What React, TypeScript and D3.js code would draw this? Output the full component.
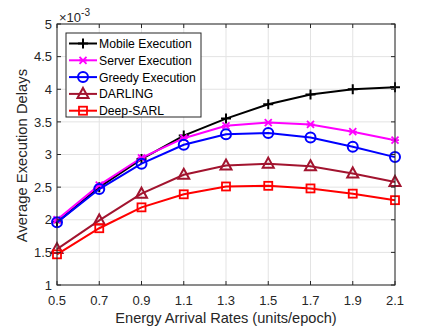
import React, { useEffect, useRef } from 'react';
import * as d3 from 'd3';

const rates = [0.5, 0.7, 0.9, 1.1, 1.3, 1.5, 1.7, 1.9, 2.1];
const mobileExec = [1.96, 2.5, 2.93, 3.29, 3.55, 3.77, 3.92, 4.0, 4.03];
const serverExec = [2.0, 2.53, 2.95, 3.25, 3.44, 3.49, 3.46, 3.35, 3.22];
const greedyExec = [1.96, 2.47, 2.86, 3.15, 3.31, 3.33, 3.26, 3.12, 2.96];
const darling = [1.55, 1.99, 2.4, 2.69, 2.83, 2.86, 2.82, 2.71, 2.58];
const deepSarl = [1.47, 1.87, 2.19, 2.39, 2.51, 2.52, 2.48, 2.4, 2.3];
const yTicks = [1, 1.5, 2, 2.5, 3, 3.5, 4, 4.5, 5];
const yTickLabels = ['1', '1.5', '2', '2.5', '3', '3.5', '4', '4.5', '5'];

const series = [
  { name: 'Mobile Execution', values: mobileExec, color: '#000000', marker: 'plus' },
  { name: 'Server Execution', values: serverExec, color: '#ff00ff', marker: 'star' },
  { name: 'Greedy Execution', values: greedyExec, color: '#0000ff', marker: 'circle' },
  { name: 'DARLING', values: darling, color: '#a2142f', marker: 'triangle' },
  { name: 'Deep-SARL', values: deepSarl, color: '#ff0000', marker: 'square' },
];

const W = 437;
const H = 328;
const margin = { left: 57, right: 42, top: 24, bottom: 43 };
const FONT = '"Liberation Sans", Arial, Helvetica, sans-serif';

function drawMarker(g, type, x, y, color) {
  if (type === 'plus') {
    g.append('path').attr('d', `M${x - 5},${y}H${x + 5}M${x},${y - 5}V${y + 5}`)
      .attr('stroke', color).attr('stroke-width', 2).attr('fill', 'none');
  } else if (type === 'star') {
    g.append('path')
      .attr('d', `M${x - 4},${y}H${x + 4}M${x - 3.5},${y - 3.5}L${x + 3.5},${y + 3.5}M${x - 3.5},${y + 3.5}L${x + 3.5},${y - 3.5}`)
      .attr('stroke', color).attr('stroke-width', 1.8).attr('fill', 'none');
  } else if (type === 'circle') {
    g.append('circle').attr('cx', x).attr('cy', y).attr('r', 5)
      .attr('stroke', color).attr('stroke-width', 2).attr('fill', 'none');
  } else if (type === 'triangle') {
    g.append('path').attr('d', `M${x},${y - 6}L${x + 5.5},${y + 4}L${x - 5.5},${y + 4}Z`)
      .attr('stroke', color).attr('stroke-width', 2).attr('fill', 'none');
  } else if (type === 'square') {
    g.append('rect').attr('x', x - 4).attr('y', y - 4).attr('width', 8).attr('height', 8)
      .attr('stroke', color).attr('stroke-width', 1.8).attr('fill', 'none');
  }
}

export default function App() {
  const svgRef = useRef(null);

  useEffect(() => {
    const svg = d3.select(svgRef.current);
    svg.selectAll('*').remove();

    const x = d3.scaleLinear().domain([0.5, 2.1]).range([margin.left, W - margin.right]);
    const y = d3.scaleLinear().domain([1, 5]).range([H - margin.bottom, margin.top]);
    const x0 = margin.left, x1 = W - margin.right, y0 = H - margin.bottom, y1 = margin.top;

    svg.append('rect').attr('x', x0).attr('y', y1).attr('width', x1 - x0).attr('height', y0 - y1).attr('fill', '#fff');

    // grid
    const grid = svg.append('g').attr('stroke', '#e3e3e3').attr('stroke-width', 1);
    rates.forEach(r => grid.append('line').attr('x1', x(r)).attr('x2', x(r)).attr('y1', y0).attr('y2', y1));
    yTicks.forEach(t => grid.append('line').attr('x1', x0).attr('x2', x1).attr('y1', y(t)).attr('y2', y(t)));

    // series
    const line = d3.line().x(d => x(d[0])).y(d => y(d[1]));
    series.forEach(s => {
      const pts = rates.map((r, i) => [r, s.values[i]]);
      svg.append('path').attr('d', line(pts)).attr('fill', 'none')
        .attr('stroke', s.color).attr('stroke-width', 2);
      const mg = svg.append('g');
      pts.forEach(p => drawMarker(mg, s.marker, x(p[0]), y(p[1]), s.color));
    });

    // axes box and ticks
    const ax = svg.append('g').attr('stroke', '#262626').attr('stroke-width', 1);
    ax.append('rect').attr('x', x0).attr('y', y1).attr('width', x1 - x0).attr('height', y0 - y1).attr('fill', 'none');
    rates.forEach(r => {
      ax.append('line').attr('x1', x(r)).attr('x2', x(r)).attr('y1', y0).attr('y2', y0 - 4);
      ax.append('line').attr('x1', x(r)).attr('x2', x(r)).attr('y1', y1).attr('y2', y1 + 4);
    });
    yTicks.forEach(t => {
      ax.append('line').attr('x1', x0).attr('x2', x0 + 4).attr('y1', y(t)).attr('y2', y(t));
      ax.append('line').attr('x1', x1).attr('x2', x1 - 4).attr('y1', y(t)).attr('y2', y(t));
    });

    const txt = svg.append('g').attr('font-family', FONT).attr('fill', '#262626');
    rates.forEach(r => {
      txt.append('text').attr('x', x(r)).attr('y', y0 + 20).attr('text-anchor', 'middle')
        .attr('font-size', 13).text(d3.format('.1f')(r));
    });
    yTicks.forEach((t, i) => {
      txt.append('text').attr('x', x0 - 5).attr('y', y(t) + 4.7).attr('text-anchor', 'end')
        .attr('font-size', 13).text(yTickLabels[i]);
    });
    const exp = txt.append('text').attr('x', x0 + 2).attr('y', y1 - 2).attr('font-size', 13);
    exp.append('tspan').text('\u00d710');
    exp.append('tspan').attr('dy', -6).attr('font-size', 10).text('-3');

    txt.append('text').attr('x', (x0 + x1) / 2).attr('y', H - 5).attr('text-anchor', 'middle')
      .attr('font-size', 14.6).text('Energy Arrival Rates (units/epoch)');
    txt.append('text').attr('transform', `translate(${27},${(y0 + y1) / 2 + 1}) rotate(-90)`)
      .attr('text-anchor', 'middle').attr('font-size', 14.8).text('Average Execution Delays');

    // legend
    const lg = svg.append('g');
    const lx = 66, ly = 33, lw = 135, lh = 84;
    lg.append('rect').attr('x', lx).attr('y', ly).attr('width', lw).attr('height', lh)
      .attr('fill', '#fff').attr('stroke', '#262626').attr('stroke-width', 1);
    series.forEach((s, i) => {
      const cy = ly + 10.5 + i * 16.8;
      lg.append('line').attr('x1', lx + 3).attr('x2', lx + 31).attr('y1', cy).attr('y2', cy)
        .attr('stroke', s.color).attr('stroke-width', 2);
      drawMarker(lg, s.marker, lx + 17, cy, s.color);
      lg.append('text').attr('x', lx + 33).attr('y', cy + 4.4).attr('font-family', FONT)
        .attr('font-size', 12.2).attr('fill', '#000').text(s.name);
    });
  }, []);

  return (
    <svg ref={svgRef} width={W} height={H} style={{ position: 'absolute', left: 0, top: 0 }} />
  );
}
